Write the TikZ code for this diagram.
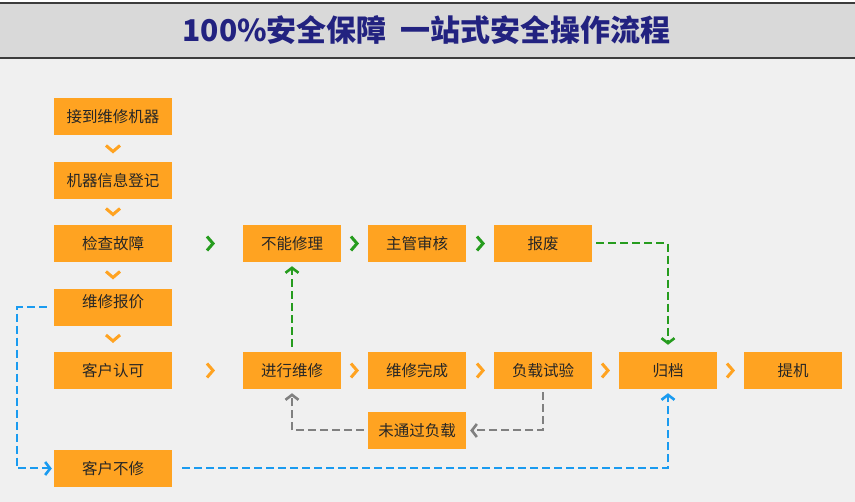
\documentclass[tikz,border=0pt]{standalone}
\usepackage{fontspec}
\setmainfont{Noto Sans CJK SC}
\usetikzlibrary{arrows.meta}
\definecolor{bg}{RGB}{240,240,240}
\definecolor{band}{RGB}{217,217,217}
\definecolor{bandline}{RGB}{60,60,60}
\definecolor{titleblue}{RGB}{34,34,128}
\definecolor{boxorange}{RGB}{255,163,33}
\definecolor{flowgreen}{RGB}{38,156,30}
\definecolor{flowblue}{RGB}{26,155,240}
\definecolor{flowgray}{RGB}{128,128,128}
\tikzset{
  box/.style={fill=boxorange, minimum width=98pt, minimum height=37pt, inner sep=0pt,
    font=\fontsize{15.5}{15.5}\selectfont, text=black!85},
  wbox/.style={box, minimum width=118pt},
  conn/.style={line width=2pt, dash pattern=on 8pt off 4pt},
  barb/.style={-{Straight Barb[length=5pt,width=13pt,line width=2.6pt]}},
  chev/.style={line width=3pt, line join=miter, line cap=butt},
}
\newcommand{\downchev}[3]{\draw[chev,#3] (#1-7,#2-3) -- (#1,#2+3) -- (#1+7,#2-3);}
\newcommand{\rightchev}[3]{\draw[chev,#3] (#1-3,#2-7) -- (#1+3,#2) -- (#1-3,#2+7);}
\begin{document}
\begin{tikzpicture}[x=1pt,y=-1pt]
\useasboundingbox (0,0) rectangle (855,502);
\fill[bg] (0,0) rectangle (855,502);
\fill[white] (0,0) rectangle (855,3);
\fill[band] (0,3) rectangle (855,58);
\draw[bandline,line width=1.2pt] (0,3) -- (855,3);
\draw[bandline,line width=1.2pt] (0,58) -- (855,58);
\node (title) at (426.5,30.5) {\fontsize{30}{30}\selectfont\bfseries\color{titleblue}100\%安全保障\hspace{0.45em}一站式安全操作流程};

% column 1
\node[wbox] (jiedao) at (113,116.5) {接到维修机器};
\node[wbox] (dengji) at (113,180.5) {机器信息登记};
\node[wbox] (jiancha) at (113,243.5) {检查故障};
\node[wbox] (baojia) at (113,307.5) {\raisebox{5pt}[0.8em][0.2em]{维修报价}};
\node[wbox] (renke) at (113,370.5) {客户认可};
\node[wbox] (buxiu) at (113,468.5) {客户不修};

% row 3
\node[box] (buneng) at (292,243.5) {不能修理};
\node[box] (zhuguan) at (417,243.5) {主管审核};
\node[box] (baofei) at (543,243.5) {报废};

% row 5
\node[box] (jinxing) at (292,370.5) {进行维修};
\node[box] (wancheng) at (417,370.5) {维修完成};
\node[box] (fuzai) at (543,370.5) {负载试验};
\node[box] (guidang) at (668,370.5) {归档};
\node[box] (tiji) at (793,370.5) {提机};
\node[box] (weitongguo) at (417,430.5) {未通过负载};

% chevrons
\downchev{113}{148.5}{boxorange}
\downchev{113}{211.5}{boxorange}
\downchev{113}{274.5}{boxorange}
\downchev{113}{338}{boxorange}
\rightchev{210}{243.5}{flowgreen}
\rightchev{354}{243.5}{flowgreen}
\rightchev{480}{243.5}{flowgreen}
\rightchev{210}{370.5}{boxorange}
\rightchev{354}{370.5}{boxorange}
\rightchev{480}{370.5}{boxorange}
\rightchev{605}{370.5}{boxorange}
\rightchev{730}{370.5}{boxorange}

% connectors
\draw[conn,barb,flowgreen] ([xshift=4pt]baofei.east) -| ([yshift=7pt]guidang.north);
\draw[conn,barb,flowgreen] ([yshift=5pt]jinxing.north) -- ([yshift=-4pt]buneng.south);
\draw[conn,barb,flowgray] ([yshift=-3pt]fuzai.south) |- ([xshift=4pt]weitongguo.east);
\draw[conn,barb,flowgray] ([xshift=-4pt]weitongguo.west) -| ([yshift=-4pt]jinxing.south);
\coordinate (lcorner) at (17,307.5);
\draw[conn,barb,flowblue] ([xshift=-7pt]baojia.west) -- (lcorner) |- ([xshift=-2pt]buxiu.west);
\draw[conn,barb,flowblue] ([xshift=10pt]buxiu.east) -| ([yshift=-4pt]guidang.south);
\end{tikzpicture}
\end{document}
